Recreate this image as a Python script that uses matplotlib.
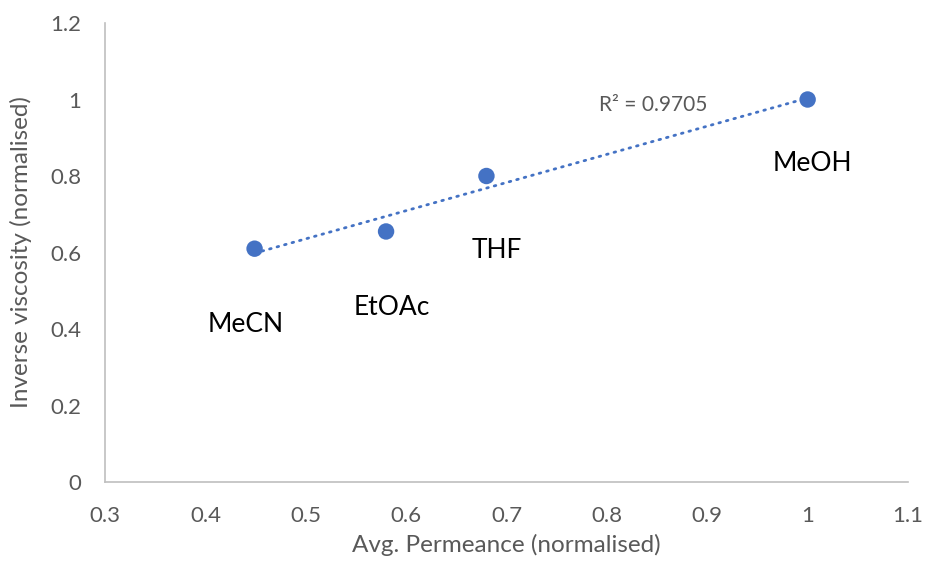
import numpy as np
import matplotlib
matplotlib.use("Agg")
import matplotlib.pyplot as plt

plt.rcParams['font.family'] = ['Lato', 'DejaVu Sans']

solvents = ["MeCN", "EtOAc", "THF", "MeOH"]
permeance = [0.449, 0.58, 0.68, 1.0]
inv_viscosity = [0.61, 0.655, 0.80, 1.0]
# label offsets in pixels (dx, dy) relative to each point
label_offsets = [(-9, -76), (6, -76), (10, -74), (5, -64)]

x_ticks = [0.3, 0.4, 0.5, 0.6, 0.7, 0.8, 0.9, 1.0, 1.1]
x_tick_labels = ["0.3", "0.4", "0.5", "0.6", "0.7", "0.8", "0.9", "1", "1.1"]
y_ticks = [0, 0.2, 0.4, 0.6, 0.8, 1.0, 1.2]
y_tick_labels = ["0", "0.2", "0.4", "0.6", "0.8", "1", "1.2"]

blue = "#4472C4"
grey_text = "#595959"
spine_col = "#BFBFBF"

fig = plt.figure(figsize=(9.27, 5.61), dpi=100)
ax = fig.add_axes([0.1133, 0.1408, 0.8662, 0.8182])

x = np.array(permeance)
y = np.array(inv_viscosity)

# linear trendline
slope, intercept = np.polyfit(x, y, 1)
pred = slope * x + intercept
r2 = 1 - np.sum((y - pred) ** 2) / np.sum((y - y.mean()) ** 2)
xl = np.array([x.min(), x.max()])
ax.plot(xl, slope * xl + intercept, color=blue, lw=2.0, linestyle=(0, (0.6, 2.2)),
        dash_capstyle="round", zorder=2)

ax.scatter(x, y, s=140, color=blue, zorder=3, edgecolors="none")

px = 0.72  # points per pixel at 100 dpi
for name, xi, yi, (dx, dy) in zip(solvents, permeance, inv_viscosity, label_offsets):
    ax.annotate(name, (xi, yi), xytext=(dx * px, dy * px), textcoords="offset points",
                ha="center", va="center", fontsize=19, color="black")

ax.annotate(f"R² = {r2:.4f}", (1.0, 1.0), xytext=(-154 * px, -5 * px),
            textcoords="offset points", ha="center", va="center",
            fontsize=15, color=grey_text)

ax.set_xlim(0.3, 1.1)
ax.set_ylim(0, 1.2)
ax.set_xticks(x_ticks)
ax.set_xticklabels(x_tick_labels)
ax.set_yticks(y_ticks)
ax.set_yticklabels(y_tick_labels)
ax.tick_params(axis="both", length=0, labelsize=16, colors=grey_text)
ax.tick_params(axis="x", pad=17)
ax.tick_params(axis="y", pad=17)

for s in ["top", "right"]:
    ax.spines[s].set_visible(False)
for s in ["left", "bottom"]:
    ax.spines[s].set_color(spine_col)
    ax.spines[s].set_linewidth(1.2)

ax.set_xlabel("Avg. Permeance (normalised)", fontsize=17.5, color=grey_text, labelpad=6)
ax.set_ylabel("Inverse viscosity (normalised)", fontsize=17.5, color=grey_text, labelpad=13)

fig.savefig("out.png", dpi=100)
